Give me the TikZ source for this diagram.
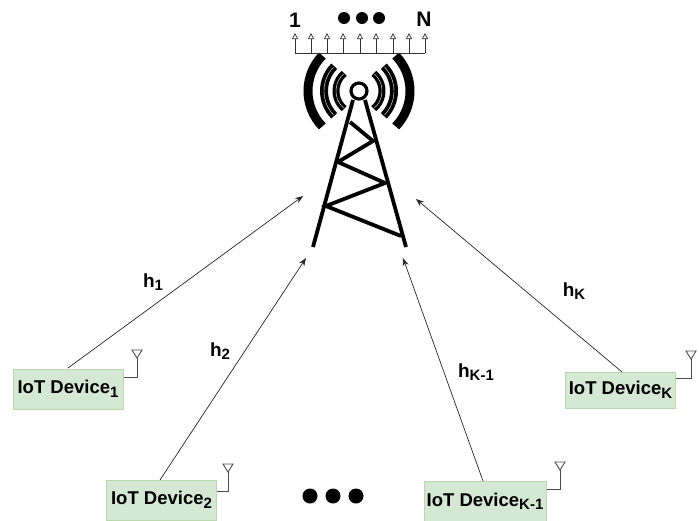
\documentclass[tikz,border=0pt]{standalone}
\usepackage{fontspec}
\setmainfont{Liberation Sans}
\usetikzlibrary{arrows.meta,calc}
\definecolor{devfill}{HTML}{D5E8D4}
\definecolor{devline}{HTML}{B9D8AE}
\tikzset{
 x=1pt,y=-1pt,
 device/.style={draw=devline,fill=devfill,line width=1pt,inner sep=0pt,minimum height=40pt,align=center,font=\fontsize{18.5}{20}\selectfont\bfseries},
 lbl/.style={font=\fontsize{19}{20}\selectfont\bfseries,inner sep=0pt},
 link/.style={draw=black!85,line width=0.7pt,-{Stealth[length=8pt,width=6pt]}},
 feed/.style={draw=black!70,line width=0.9pt},
 elem/.style={draw=black!80,line width=0.7pt,-{Triangle[open,length=6pt,width=6pt]}},
 bigdot/.style={circle,fill=black,inner sep=0pt},
 tower/.style={line width=3.8pt,draw=black},
}
\newcommand{\sbs}[1]{\raisebox{-3.5pt}{\fontsize{15}{15}\selectfont\bfseries #1}}
\newcommand{\ant}[3]{%
 \coordinate (#1c) at (#2,#3);
 \coordinate (#1t) at (#2,#3-19);
 \draw[feed] (#1.east |- #1c) -- (#1c) -- (#1t);
 \draw[feed] (#2-5,#3-27) -- (#2+5,#3-27) -- (#1t) -- cycle;
}
\begin{document}
\begin{tikzpicture}
\useasboundingbox (0,0) rectangle (699,520);
% devices
\node[device,minimum width=110pt] (d1) at (68,389) {IoT Device\sbs{1}};
\node[device,minimum width=110pt] (d2) at (161.5,500) {IoT Device\sbs{2}};
\node[device,minimum width=122pt] (d3) at (485,501.5) {IoT Device\sbs{K-1}};
\node[device,minimum width=110pt,minimum height=36pt] (d4) at (620.5,390) {IoT Device\sbs{K}};
\ant{d1}{137}{377}
\ant{d2}{228}{491}
\ant{d3}{560}{489}
\ant{d4}{691}{378}
% free ends
\coordinate (t1) at (303,196);
\coordinate (t2) at (306,258);
\coordinate (t3) at (403,258);
\coordinate (t4) at (416,199);
\draw[link] (68,368) -- (t1);
\draw[link] (160,480) -- (t2);
\draw[link] (483,481) -- (t3);
\draw[link] (622,372) -- (t4);
% labels
\node[lbl] (h1) at (153,282) {h\sbs{1}};
\node[lbl] (h2) at (220,351) {h\sbs{2}};
\node[lbl] (h3) at (476,372) {h\sbs{K-1}};
\node[lbl] (h4) at (574,291) {h\sbs{K}};
% tower
\coordinate (top) at (359,91);
\draw[tower] (353,100) -- (313,247);
\draw[tower] (365,100) -- (406,247);
\draw[tower,line join=miter] (350,122) -- (373,141) -- (338,162) -- (385,183) -- (326,206) -- (401,236);
\draw[line width=3.2pt] (top) circle (8);
% waves
\foreach \r/\w/\a in {51/9/44,35/8/45,23/7/50}{
 \draw[line width=\w pt] ($(top)+({180-\a}:\r)$) arc[start angle=180-\a,end angle=180+\a,radius=\r];
 \draw[line width=\w pt] ($(top)+({-\a}:\r)$) arc[start angle=-\a,end angle=\a,radius=\r];
}
\foreach \r/\a in {35/43,23/48}{
 \draw[white,line width=0.4pt] ($(top)+({180-\a}:\r)$) arc[start angle=180-\a,end angle=180+\a,radius=\r];
 \draw[white,line width=0.4pt] ($(top)+({-\a}:\r)$) arc[start angle=-\a,end angle=\a,radius=\r];
}
% array
\coordinate (bl) at (295,53);
\coordinate (br) at (425,53);
\draw[draw=black!80,line width=0.7pt] (bl) -- (br);
\foreach \x in {295,311,327,343,360,376,393,409,425}{
 \coordinate (e\x) at (\x,33);
 \draw[elem] (\x,53) -- (e\x);
}
\node[lbl,font=\fontsize{21}{21}\selectfont\bfseries] (n1) at (295,20) {1};
\node[lbl,font=\fontsize{21}{21}\selectfont\bfseries] (nN) at (424,19) {N};
\foreach \x in {344,362,379} \node[bigdot,minimum size=12pt] (u\x) at (\x,18) {};
\foreach \x in {310,333,356} \node[bigdot,minimum size=15pt] (b\x) at (\x,496) {};
\end{tikzpicture}
\end{document}
